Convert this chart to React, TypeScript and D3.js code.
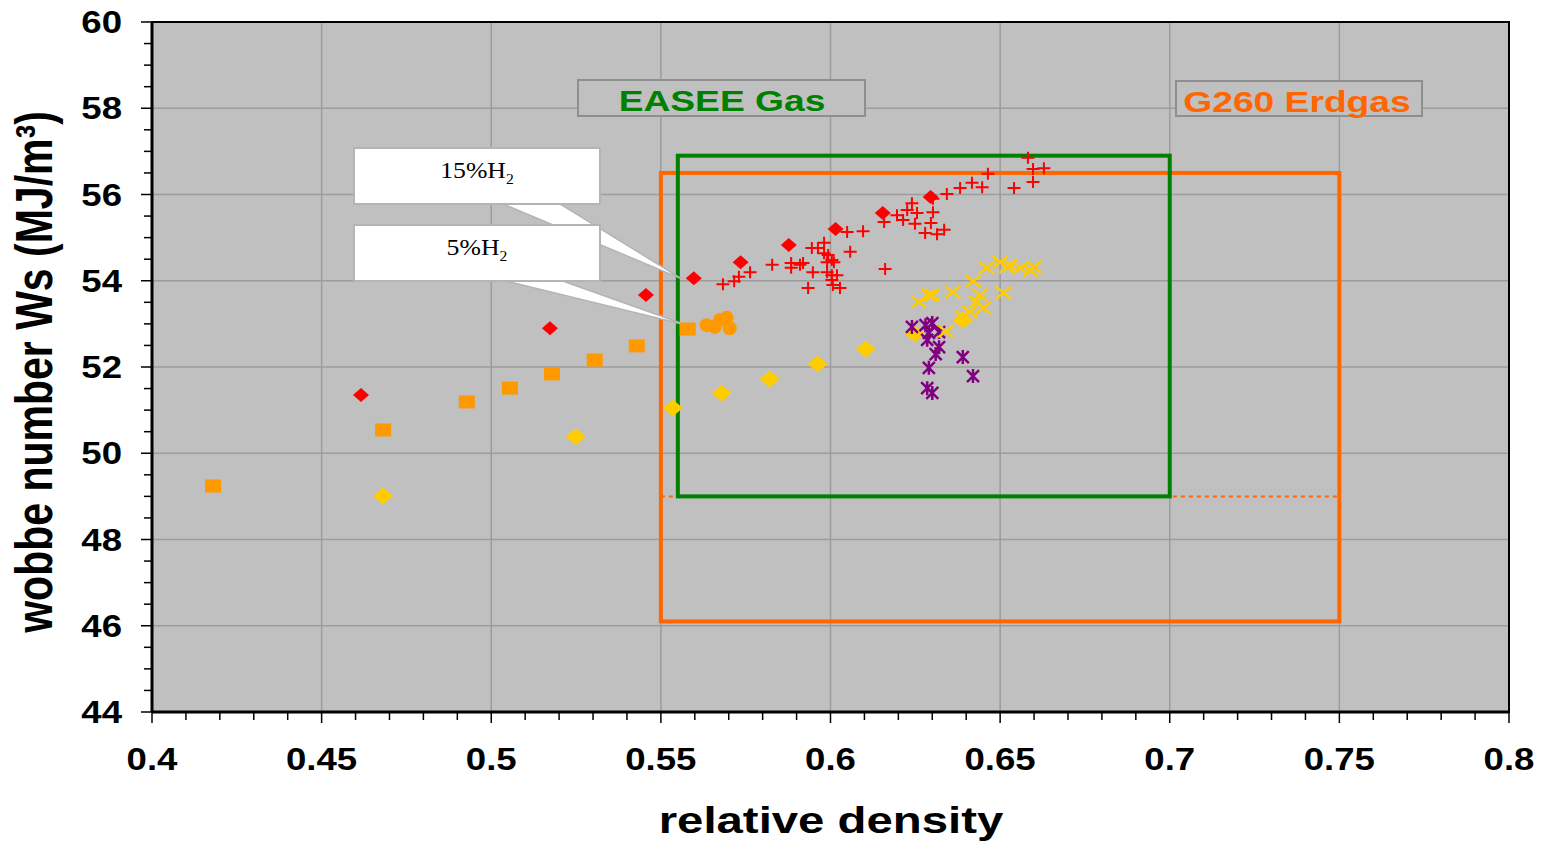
import React from "react";
import * as d3 from "d3";

// ---------- data ----------
const xTicks = [0.4, 0.45, 0.5, 0.55, 0.6, 0.65, 0.7, 0.75, 0.8];
const xTickLabels = ["0.4", "0.45", "0.5", "0.55", "0.6", "0.65", "0.7", "0.75", "0.8"];
const yTicks = [44, 46, 48, 50, 52, 54, 56, 58, 60];
const yTickLabels = ["44", "46", "48", "50", "52", "54", "56", "58", "60"];

// 15% H2 series (red diamonds)
const redDiamondX = [0.4616, 0.5173, 0.5456, 0.5597, 0.5735, 0.5877, 0.6015, 0.6154, 0.6295];
const redDiamondY = [51.35, 52.9, 53.67, 54.06, 54.43, 54.83, 55.2, 55.57, 55.94];

// 5% H2 series (orange squares)
const orangeSquareX = [0.418, 0.4681, 0.4928, 0.5055, 0.5179, 0.5305, 0.5429, 0.5579];
const orangeSquareY = [49.24, 50.54, 51.19, 51.51, 51.84, 52.16, 52.49, 52.88];

// orange circles
const orangeCircleX = [0.5635, 0.5674, 0.5694, 0.5703, 0.5659];
const orangeCircleY = [52.97, 53.09, 53.14, 52.9, 52.93];

// yellow diamonds
const yellowDiamondX = [0.4681, 0.5249, 0.5535, 0.5679, 0.5821, 0.5962, 0.6104, 0.6248, 0.639];
const yellowDiamondY = [49.01, 50.38, 51.05, 51.4, 51.72, 52.07, 52.42, 52.77, 53.09];

// red plus markers
const redPlusX = [0.5683, 0.5716, 0.573, 0.5763, 0.5828, 0.5884, 0.5884, 0.5919, 0.591, 0.5945,
  0.5963, 0.5981, 0.5981, 0.5993, 0.6004, 0.599, 0.601, 0.5948, 0.599, 0.6004,
  0.6019, 0.6004, 0.6007, 0.6028, 0.5934, 0.6049, 0.6096, 0.6058, 0.6158, 0.6161,
  0.6196, 0.6214, 0.6226, 0.624, 0.6255, 0.6249, 0.6302, 0.6302, 0.6296, 0.6279,
  0.6314, 0.6335, 0.6343, 0.6382, 0.6417, 0.6447, 0.6464, 0.6541, 0.6582, 0.6597,
  0.6629, 0.6597];
const redPlusY = [53.92, 53.99, 54.09, 54.2, 54.37, 54.41, 54.3, 54.41, 54.37, 54.76,
  54.76, 54.88, 54.64, 54.6, 54.48, 54.43, 54.43, 54.2, 54.2, 54.13,
  54.13, 54.02, 53.9, 53.83, 53.83, 55.13, 55.15, 54.67, 55.36, 54.27,
  55.52, 55.41, 55.64, 55.8, 55.57, 55.32, 55.9, 55.59, 55.34, 55.11,
  55.08, 55.18, 56.01, 56.15, 56.27, 56.17, 56.48, 56.15, 56.85, 56.59,
  56.61, 56.29];

// yellow x markers
const yellowXX = [0.626, 0.629, 0.63, 0.636, 0.642, 0.646, 0.65, 0.652, 0.653, 0.656,
  0.659, 0.66, 0.651, 0.644, 0.643, 0.645, 0.641, 0.634, 0.639];
const yellowXY = [53.51, 53.67, 53.67, 53.74, 53.99, 54.3, 54.43, 54.32, 54.36, 54.3,
  54.23, 54.32, 53.72, 53.67, 53.51, 53.37, 53.28, 52.83, 53.16];

// purple asterisks
const purpleX = [0.624, 0.628, 0.63, 0.629, 0.632, 0.6285, 0.632, 0.631, 0.639, 0.629, 0.642, 0.6285, 0.63];
const purpleY = [52.93, 52.97, 53.02, 52.79, 52.81, 52.63, 52.46, 52.3, 52.23, 51.98, 51.79, 51.51, 51.4];

// specification boxes
const easeeX = [0.555, 0.7];
const easeeY = [49, 56.9];
const g260X = [0.55, 0.75];
const g260Y = [46.1, 56.5];
const g260DottedY = 49;

// callout targets
const callout15Tip = [0.556, 54.05];
const callout5Tip = [0.5577, 52.97];

// ---------- layout ----------
const W = 1541;
const H = 842;
const L = 152, R = 1509, T = 22, B = 712;
const SX = 1.24; // horizontal text stretch

const x = d3.scaleLinear().domain([0.4, 0.8]).range([L, R]);
const y = d3.scaleLinear().domain([44, 60]).range([B, T]);

const FONT = "'Liberation Sans', Arial, sans-serif";
const SERIF = "'Liberation Serif', 'Times New Roman', serif";

const diamond = (cx: number, cy: number, hw: number, hh: number) =>
  `M${cx - hw},${cy}L${cx},${cy - hh}L${cx + hw},${cy}L${cx},${cy + hh}Z`;

export default function App() {
  const xMinor = d3.range(0, 41).map((i) => 0.4 + i * 0.01);
  const yMinor = d3.range(0, 33).map((i) => 44 + i * 0.5);

  const Callout = ({ top, tip, label }: { top: number; tip: number[]; label: string }) => {
    const bx = 354, bw = 246, bh = 56;
    const tx = x(tip[0]), ty = y(tip[1]);
    return (
      <g>
        <polygon
          points={`${498},${top + bh - 2} ${557},${top + bh - 2} ${tx},${ty}`}
          fill="#ffffff"
          stroke="#b4b4b4"
          strokeWidth={1.5}
        />
        <rect x={bx} y={top} width={bw} height={bh} fill="#ffffff" stroke="#b4b4b4" strokeWidth={2} />
        <text
          transform={`translate(${bx + bw / 2},${top + 30}) scale(1.12,1)`}
          textAnchor="middle"
          fontFamily={SERIF}
          fontSize={23}
          fill="#000"
        >
          {label}H<tspan fontSize={14} dy={6}>2</tspan>
        </text>
      </g>
    );
  };

  return (
    <svg width={W} height={H} style={{ position: "absolute", left: 0, top: 0, background: "#fff" }}>
      {/* plot background */}
      <rect x={L} y={T} width={R - L} height={B - T} fill="#c0c0c0" />
      {/* gridlines */}
      {xTicks.slice(1, -1).map((v) => (
        <line key={"gx" + v} x1={x(v)} x2={x(v)} y1={T} y2={B} stroke="#9c9c9c" strokeWidth={1.5} />
      ))}
      {yTicks.slice(1, -1).map((v) => (
        <line key={"gy" + v} x1={L} x2={R} y1={y(v)} y2={y(v)} stroke="#9c9c9c" strokeWidth={1.5} />
      ))}

      {/* label boxes */}
      <rect x={578} y={80} width={287} height={36} fill="#c0c0c0" stroke="#8f8f8f" strokeWidth={2} />
      <text
        transform={`translate(${722},${111}) scale(${SX},1)`}
        textAnchor="middle"
        fontFamily={FONT}
        fontWeight="bold"
        fontSize={30}
        fill="#008000"
      >
        EASEE Gas
      </text>
      <rect x={1176} y={81} width={246} height={35} fill="#c0c0c0" stroke="#8f8f8f" strokeWidth={2} />
      <text
        transform={`translate(${1297},${112}) scale(${SX},1)`}
        textAnchor="middle"
        fontFamily={FONT}
        fontWeight="bold"
        fontSize={30}
        fill="#ff6600"
      >
        G260 Erdgas
      </text>

      {/* G260 box */}
      <rect
        x={x(g260X[0])}
        y={y(g260Y[1])}
        width={x(g260X[1]) - x(g260X[0])}
        height={y(g260Y[0]) - y(g260Y[1])}
        fill="none"
        stroke="#ff6600"
        strokeWidth={4}
      />
      <line
        x1={x(g260X[0])}
        x2={x(g260X[1])}
        y1={y(g260DottedY)}
        y2={y(g260DottedY)}
        stroke="#ff6600"
        strokeWidth={2}
        strokeDasharray="4,4"
      />
      {/* EASEE box */}
      <rect
        x={x(easeeX[0])}
        y={y(easeeY[1])}
        width={x(easeeX[1]) - x(easeeX[0])}
        height={y(easeeY[0]) - y(easeeY[1])}
        fill="none"
        stroke="#008000"
        strokeWidth={4}
      />

      {/* callouts */}
      <Callout top={148} tip={callout15Tip} label="15%" />
      <Callout top={225} tip={callout5Tip} label="5%" />

      {/* orange squares */}
      {orangeSquareX.map((v, i) => (
        <rect key={"os" + i} x={x(v) - 8} y={y(orangeSquareY[i]) - 6.5} width={16} height={13} fill="#ff9900" />
      ))}
      {/* orange circles */}
      {orangeCircleX.map((v, i) => (
        <circle key={"oc" + i} cx={x(v)} cy={y(orangeCircleY[i])} r={7} fill="#ff9900" />
      ))}
      {/* yellow diamonds */}
      {yellowDiamondX.map((v, i) => (
        <path key={"yd" + i} d={diamond(x(v), y(yellowDiamondY[i]), 10, 8.5)} fill="#ffcc00" />
      ))}
      {/* purple asterisks */}
      {purpleX.map((v, i) => {
        const cx = x(v), cy = y(purpleY[i]);
        return (
          <path
            key={"pa" + i}
            d={`M${cx - 6},${cy - 6}L${cx + 6},${cy + 6}M${cx - 6},${cy + 6}L${cx + 6},${cy - 6}M${cx},${cy - 7}L${cx},${cy + 7}`}
            stroke="#800080"
            strokeWidth={2.5}
            fill="none"
          />
        );
      })}
      {/* yellow x markers */}
      {yellowXX.map((v, i) => {
        const cx = x(v), cy = y(yellowXY[i]);
        return (
          <path
            key={"yx" + i}
            d={`M${cx - 7.5},${cy - 6}L${cx + 7.5},${cy + 6}M${cx - 7.5},${cy + 6}L${cx + 7.5},${cy - 6}`}
            stroke="#ffcc00"
            strokeWidth={2.5}
            fill="none"
          />
        );
      })}
      {/* red diamonds */}
      {redDiamondX.map((v, i) => (
        <path key={"rd" + i} d={diamond(x(v), y(redDiamondY[i]), 8, 7)} fill="#ff0000" />
      ))}
      {/* red plus */}
      {redPlusX.map((v, i) => {
        const cx = x(v), cy = y(redPlusY[i]);
        return (
          <path
            key={"rp" + i}
            d={`M${cx - 6.5},${cy}L${cx + 6.5},${cy}M${cx},${cy - 6}L${cx},${cy + 6}`}
            stroke="#ff0000"
            strokeWidth={2}
            fill="none"
          />
        );
      })}

      {/* plot border */}
      <rect x={L} y={T} width={R - L} height={B - T} fill="none" stroke="#000" strokeWidth={2} />
      <line x1={L} x2={R} y1={B} y2={B} stroke="#000" strokeWidth={3} />
      <line x1={L} x2={L} y1={T} y2={B} stroke="#000" strokeWidth={3} />

      {/* ticks */}
      {xMinor.map((v, i) => (
        <line key={"xt" + i} x1={x(v)} x2={x(v)} y1={B} y2={B + (i % 5 === 0 ? 11 : 8)} stroke="#000" strokeWidth={1.5} />
      ))}
      {yMinor.map((v, i) => (
        <line key={"yt" + i} x1={L - (i % 4 === 0 ? 11 : 8)} x2={L} y1={y(v)} y2={y(v)} stroke="#000" strokeWidth={1.5} />
      ))}

      {/* tick labels */}
      {xTicks.map((v, i) => (
        <text
          key={"xl" + i}
          transform={`translate(${x(v)},${770}) scale(1.18,1)`}
          textAnchor="middle"
          fontFamily={FONT}
          fontWeight="bold"
          fontSize={31}
          fill="#000"
        >
          {xTickLabels[i]}
        </text>
      ))}
      {yTicks.map((v, i) => (
        <text
          key={"yl" + i}
          transform={`translate(${122},${y(v) + 11}) scale(1.18,1)`}
          textAnchor="end"
          fontFamily={FONT}
          fontWeight="bold"
          fontSize={31}
          fill="#000"
        >
          {yTickLabels[i]}
        </text>
      ))}

      {/* axis titles */}
      <text
        transform={`translate(${831},${833}) scale(1.28,1)`}
        textAnchor="middle"
        fontFamily={FONT}
        fontWeight="bold"
        fontSize={37}
        fill="#000"
      >
        relative density
      </text>
      <text
        transform={`translate(${52},${372}) scale(1.27,1) rotate(-90)`}
        textAnchor="middle"
        fontFamily={FONT}
        fontWeight="bold"
        fontSize={41}
        fill="#000"
      >
        wobbe number Ws (MJ/m³)
      </text>
    </svg>
  );
}
